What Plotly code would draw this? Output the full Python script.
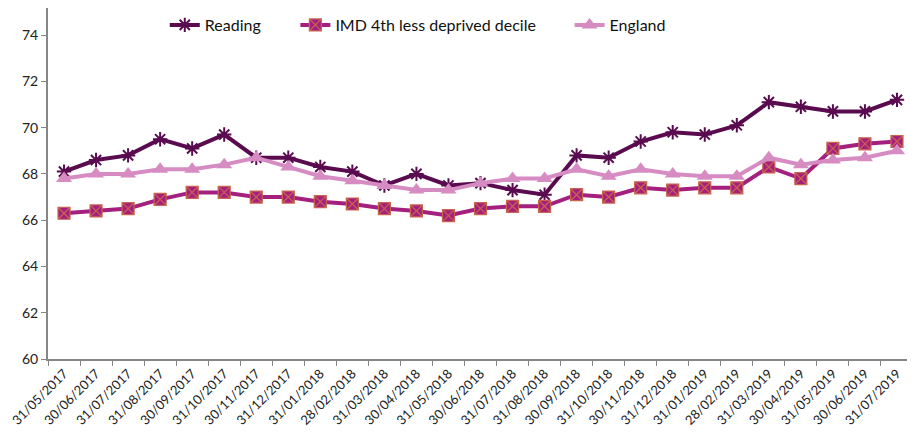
import plotly.graph_objects as go

dates = ["31/05/2017","30/06/2017","31/07/2017","31/08/2017","30/09/2017","31/10/2017",
         "30/11/2017","31/12/2017","31/01/2018","28/02/2018","31/03/2018","30/04/2018",
         "31/05/2018","30/06/2018","31/07/2018","31/08/2018","30/09/2018","31/10/2018",
         "30/11/2018","31/12/2018","31/01/2019","28/02/2019","31/03/2019","30/04/2019",
         "31/05/2019","30/06/2019","31/07/2019"]

reading = [68.1,68.6,68.8,69.5,69.1,69.7,68.7,68.7,68.3,68.1,67.5,68.0,67.5,67.6,67.3,67.1,
           68.8,68.7,69.4,69.8,69.7,70.1,71.1,70.9,70.7,70.7,71.2]
imd = [66.3,66.4,66.5,66.9,67.2,67.2,67.0,67.0,66.8,66.7,66.5,66.4,66.2,66.5,66.6,66.6,
       67.1,67.0,67.4,67.3,67.4,67.4,68.3,67.8,69.1,69.3,69.4]
england = [67.8,68.0,68.0,68.2,68.2,68.4,68.7,68.3,67.9,67.7,67.5,67.3,67.3,67.6,67.8,67.8,
           68.2,67.9,68.2,68.0,67.9,67.9,68.7,68.4,68.6,68.7,69.0]

yticks = [60, 62, 64, 66, 68, 70, 72, 74]

fig = go.Figure()
fig.add_trace(go.Scatter(
    x=dates, y=reading, name="Reading", mode="lines+markers", legend="legend",
    line=dict(color="#5A0A4E", width=4),
    marker=dict(symbol="asterisk-open", size=12, color="#5A0A4E",
                line=dict(color="#5A0A4E", width=2))))
fig.add_trace(go.Scatter(
    x=dates, y=imd, name="IMD 4th less deprived decile", mode="lines+markers", legend="legend2",
    line=dict(color="#A5207E", width=4),
    marker=dict(symbol="square-x", size=12, color="#A5207E",
                line=dict(color="#C8644E", width=1.2))))
fig.add_trace(go.Scatter(
    x=dates, y=england, name="England", mode="lines+markers", legend="legend3",
    line=dict(color="#D68CC2", width=4),
    marker=dict(symbol="triangle-up", size=14, color="#D68CC2")))

leg_common = dict(orientation="h", y=1.0, yanchor="top", xanchor="left",
                  bgcolor="rgba(0,0,0,0)", font=dict(size=16, color="#111111"))

fig.update_layout(
    width=907, height=435,
    margin=dict(l=40, r=2, t=0, b=84),
    paper_bgcolor="white", plot_bgcolor="white",
    font=dict(family="Lato, Open Sans, sans-serif", color="#222222", size=13),
    showlegend=True,
    legend=dict(x=0.135, **leg_common),
    legend2=dict(x=0.286, **leg_common),
    legend3=dict(x=0.603, **leg_common),
    xaxis=dict(type="category", categoryorder="array", categoryarray=dates,
               tickangle=-45, tickson="boundaries", ticks="outside", ticklen=5,
               tickcolor="#868686", showline=True, linecolor="#868686", linewidth=2,
               showgrid=False, zeroline=False, tickfont=dict(size=13),
               range=[-0.5, len(dates) - 0.5], automargin=False),
    yaxis=dict(range=[60, 75.17], tickvals=yticks, ticks="outside", ticklen=5,
               tickcolor="#868686", showline=True, linecolor="#868686", linewidth=2,
               showgrid=False, zeroline=False, tickfont=dict(size=14), automargin=False),
)

fig.write_html("out.html")
